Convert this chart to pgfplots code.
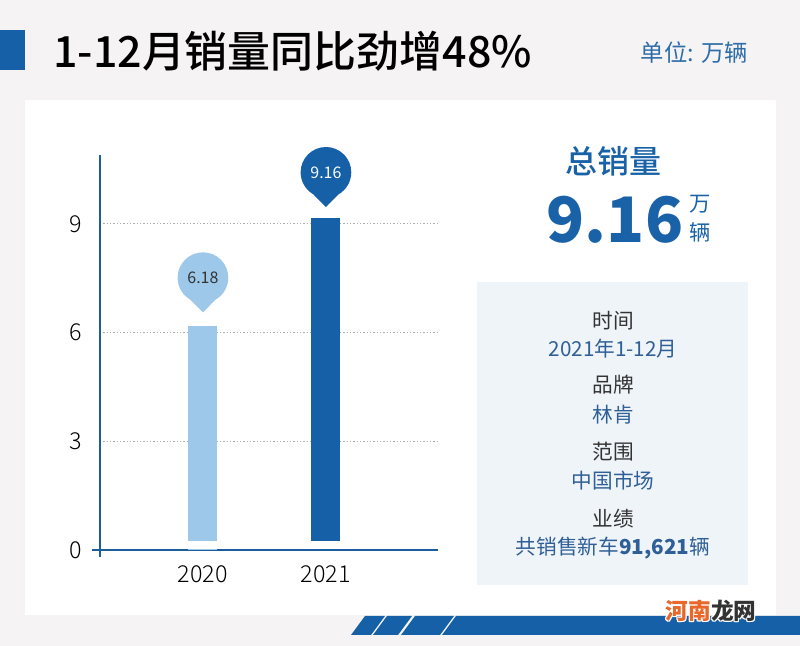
\documentclass[border=0pt]{standalone}
\usepackage{fontspec}
\setmainfont{Noto Sans CJK SC}
\newfontfamily\medfont{Noto Sans CJK SC Medium}
\newfontfamily\lightfont{Noto Sans CJK SC Light}
\usepackage{pgfplots}
\pgfplotsset{compat=1.18}
\usetikzlibrary{shapes.callouts}
\definecolor{bggray}{HTML}{F5F3F4}
\definecolor{darkblue}{HTML}{1560A6}
\definecolor{lightbar}{HTML}{9DC8EA}
\definecolor{axisblue}{HTML}{1B5E9B}
\definecolor{infobox}{HTML}{EFF4F9}
\definecolor{valblue}{HTML}{2F5F96}
\definecolor{labgray}{HTML}{333333}
\definecolor{unitblue}{HTML}{2E6DA8}
\definecolor{bigblue}{HTML}{1A62A8}
\definecolor{wmorange}{HTML}{E8682C}
\newcommand{\fs}[1]{\fontsize{#1}{#1}\selectfont}
\begin{document}
\begin{tikzpicture}[x=0.75pt,y=0.75pt]
\useasboundingbox (0,0) rectangle (800,646);
% background
\fill[bggray] (0,0) rectangle (800,646);
\fill[darkblue] (0,576) rectangle (25,616);
\node[anchor=west,inner sep=0pt,text=black] at (53,595) {\fs{32.2pt}\medfont 1-12月销量同比劲增48\%};
\node[anchor=east,inner sep=0pt,text=unitblue] at (748,593) {\fs{17.5pt}单位: 万辆};
% white panel
\fill[white] (25,31) rectangle (776,546);
% info box
\fill[infobox] (477,61) rectangle (748,364);
\node[text=bigblue,inner sep=0pt] at (613,485) {\fs{24pt}\medfont 总销量};
\node[text=bigblue,inner sep=0pt] at (615,426) {\fs{47pt}\bfseries 9.16};
\node[text=bigblue,inner sep=0pt] at (700,442) {\fs{16pt}万};
\node[text=bigblue,inner sep=0pt] at (700,414) {\fs{16pt}辆};
\node[text=labgray,inner sep=0pt] at (613,325) {\fs{15.5pt}时间};
\node[text=valblue,inner sep=0pt] at (613,297) {\fs{15.5pt}2021年1-12月};
\node[text=labgray,inner sep=0pt] at (613,261) {\fs{15.5pt}品牌};
\node[text=valblue,inner sep=0pt] at (613,231) {\fs{15.5pt}林肯};
\node[text=labgray,inner sep=0pt] at (613,194) {\fs{15.5pt}范围};
\node[text=valblue,inner sep=0pt] at (613,165) {\fs{15.5pt}中国市场};
\node[text=labgray,inner sep=0pt] at (613,127) {\fs{15.5pt}业绩};
\node[text=valblue,inner sep=0pt] at (613,98) {\fs{15.5pt}共销售新车\textbf{91,621}辆};
% bottom stripe band
\fill[darkblue] (351,11) -- (371,11) -- (385,30) -- (365,30) -- cycle;
\fill[darkblue] (373,11) -- (398,11) -- (412,30) -- (387,30) -- cycle;
\fill[darkblue] (401,11) -- (440,11) -- (454,30) -- (415,30) -- cycle;
\fill[darkblue] (442,11) -- (800,11) -- (800,30) -- (456,30) -- cycle;
% watermark
\foreach \dx/\dy in {-1/0,1/0,0/-1,0/1,-1/-1,1/1,-1/1,1/-1}{
  \node[text=white,inner sep=0pt] at (711+\dx,35+\dy) {\fs{17pt}\bfseries 河南龙网};
}
\node[inner sep=0pt] at (711,35) {\fs{17pt}\bfseries\textcolor{wmorange}{河南}\textcolor{labgray}{龙网}};
% chart
\begin{axis}[
  at={(75pt,72pt)}, anchor=south west,
  scale only axis, width=253.5pt, height=296.25pt,
  xmin=-0.837, xmax=1.911, ymin=0, ymax=10.9,
  axis lines=left,
  axis line style={draw=axisblue, line width=1.9pt, -},
  x axis line style={shorten <=-6pt},
  y axis line style={shorten <=-5pt},
  major tick length=0pt,
  tick style={draw=none},
  xtick={0,1}, xticklabels={2020,2021},
  ytick={0,3,6,9},
  ymajorgrids,
  grid style={line width=0.9pt, dash pattern=on 0.9pt off 1.6pt, color=gray!65},
  /pgf/number format/assume math mode=true,
  tick label style={font=\fs{17.5pt}\lightfont, text=black},
  yticklabel style={inner sep=0pt, xshift=-13.5pt},
  xticklabel style={inner sep=0pt, yshift=-11.25pt},
  every node near coord/.append style={
    ellipse callout, callout relative pointer={(0pt,-7pt)}, callout pointer arc=60,
    minimum width=38pt, minimum height=38pt, inner sep=0pt,
    font=\fs{12pt}},
  clip=false,
]
\addplot[ybar, bar width=21.75pt, bar shift=0pt, fill=lightbar, draw=none,
  nodes near coords, nodes near coords align={anchor=pointer},
  every node near coord/.append style={fill=lightbar, text=labgray, yshift=10pt}]
  coordinates {(0,6.18)};
\addplot[ybar, bar width=21.75pt, bar shift=0pt, fill=darkblue, draw=none,
  nodes near coords, nodes near coords align={anchor=pointer},
  every node near coord/.append style={fill=darkblue, text=white, yshift=8pt}]
  coordinates {(1,9.16)};
\fill[white] (axis cs:-0.3,0.036) rectangle (axis cs:1.3,0.25);
\end{axis}
\end{tikzpicture}
\end{document}
